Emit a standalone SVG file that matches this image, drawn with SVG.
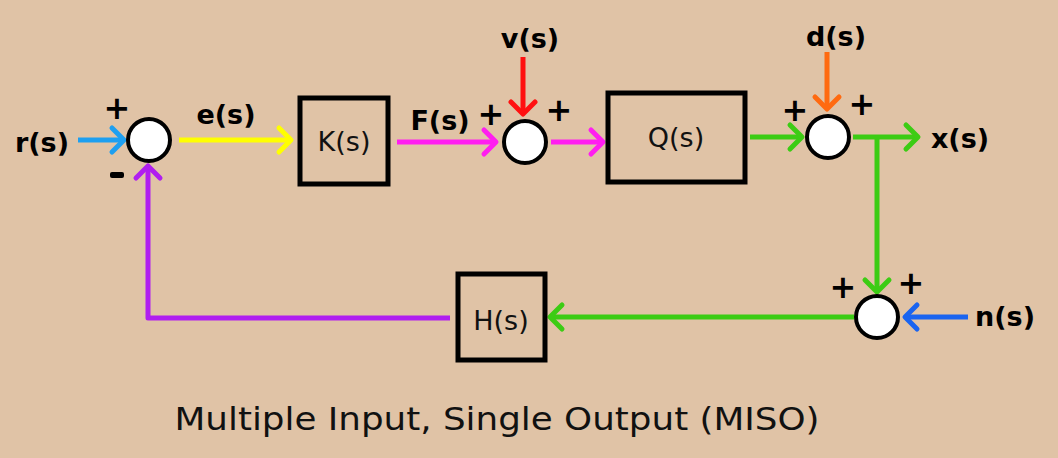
<svg xmlns="http://www.w3.org/2000/svg" width="1058" height="458" viewBox="0 0 1058 458">
<defs>
<style>
.lbl{font-family:"DejaVu Sans",sans-serif;font-weight:bold;font-size:27px;fill:#000}
.sign{font-family:"DejaVu Sans",sans-serif;font-weight:bold;font-size:32px;fill:#000}
.box{fill:none;stroke:#000;stroke-width:5}
.bt{font-family:"DejaVu Sans",sans-serif;font-size:27px;fill:#111}
.sum{fill:#fff;stroke:#000;stroke-width:4}
.w{fill:none;stroke-width:5;stroke-linejoin:round}
.title{font-family:"DejaVu Sans",sans-serif;font-size:32px;fill:#111}
</style>
<marker id="aBlue" markerUnits="userSpaceOnUse" markerWidth="30" markerHeight="30" refX="16" refY="13" orient="auto" overflow="visible"><path d="M4,1 L16,13 L4,25" fill="none" stroke="#1e9ff0" stroke-width="5" stroke-linecap="round" stroke-linejoin="round"/></marker>
<marker id="aYel" markerUnits="userSpaceOnUse" markerWidth="30" markerHeight="30" refX="16" refY="13" orient="auto" overflow="visible"><path d="M4,1 L16,13 L4,25" fill="none" stroke="#ffff00" stroke-width="5" stroke-linecap="round" stroke-linejoin="round"/></marker>
<marker id="aMag" markerUnits="userSpaceOnUse" markerWidth="30" markerHeight="30" refX="16" refY="13" orient="auto" overflow="visible"><path d="M4,1 L16,13 L4,25" fill="none" stroke="#ff1ef0" stroke-width="5" stroke-linecap="round" stroke-linejoin="round"/></marker>
<marker id="aRed" markerUnits="userSpaceOnUse" markerWidth="30" markerHeight="30" refX="16" refY="13" orient="auto" overflow="visible"><path d="M4,1 L16,13 L4,25" fill="none" stroke="#ff1010" stroke-width="5" stroke-linecap="round" stroke-linejoin="round"/></marker>
<marker id="aOra" markerUnits="userSpaceOnUse" markerWidth="30" markerHeight="30" refX="16" refY="13" orient="auto" overflow="visible"><path d="M4,1 L16,13 L4,25" fill="none" stroke="#ff6a10" stroke-width="5" stroke-linecap="round" stroke-linejoin="round"/></marker>
<marker id="aGrn" markerUnits="userSpaceOnUse" markerWidth="30" markerHeight="30" refX="16" refY="13" orient="auto" overflow="visible"><path d="M4,1 L16,13 L4,25" fill="none" stroke="#3ccc14" stroke-width="5" stroke-linecap="round" stroke-linejoin="round"/></marker>
<marker id="aNav" markerUnits="userSpaceOnUse" markerWidth="30" markerHeight="30" refX="16" refY="13" orient="auto" overflow="visible"><path d="M4,1 L16,13 L4,25" fill="none" stroke="#1a64f0" stroke-width="5" stroke-linecap="round" stroke-linejoin="round"/></marker>
<marker id="aPur" markerUnits="userSpaceOnUse" markerWidth="30" markerHeight="30" refX="16" refY="13" orient="auto" overflow="visible"><path d="M4,1 L16,13 L4,25" fill="none" stroke="#b01ef0" stroke-width="5" stroke-linecap="round" stroke-linejoin="round"/></marker>
</defs>
<rect width="1058" height="458" fill="#e0c3a6"/>

<g id="connectors">
<line class="w" x1="78" y1="140" x2="124" y2="140" stroke="#1e9ff0" marker-end="url(#aBlue)"/>
<line class="w" x1="179" y1="140" x2="291" y2="140" stroke="#ffff00" marker-end="url(#aYel)"/>
<line class="w" x1="397" y1="142" x2="496" y2="142" stroke="#ff1ef0" marker-end="url(#aMag)"/>
<line class="w" x1="523" y1="57" x2="523" y2="114" stroke="#ff1010" marker-end="url(#aRed)"/>
<line class="w" x1="551" y1="142" x2="603" y2="142" stroke="#ff1ef0" marker-end="url(#aMag)"/>
<line class="w" x1="750" y1="137" x2="802" y2="137" stroke="#3ccc14" marker-end="url(#aGrn)"/>
<line class="w" x1="827" y1="52" x2="827" y2="109" stroke="#ff6a10" marker-end="url(#aOra)"/>
<line class="w" x1="853" y1="137" x2="918" y2="137" stroke="#3ccc14" marker-end="url(#aGrn)"/>
<line class="w" x1="877" y1="137" x2="877" y2="292" stroke="#3ccc14" marker-end="url(#aGrn)"/>
<line class="w" x1="968" y1="317" x2="905" y2="317" stroke="#1a64f0" marker-end="url(#aNav)"/>
<line class="w" x1="854" y1="317" x2="550" y2="317" stroke="#3ccc14" marker-end="url(#aGrn)"/>
<polyline class="w" points="450,318 148,318 148,166" stroke="#b01ef0" marker-end="url(#aPur)"/>
</g>

<g id="sum1">
<circle class="sum" cx="149" cy="140" r="21"/>
<text class="sign" x="117" y="119" text-anchor="middle">+</text>
<rect x="110" y="172" width="14" height="6" rx="2" fill="#000"/>
</g>
<g id="sum2">
<circle class="sum" cx="525" cy="142" r="21"/>
<text class="sign" x="491" y="125" text-anchor="middle">+</text>
<text class="sign" x="559" y="121" text-anchor="middle">+</text>
</g>
<g id="sum3">
<circle class="sum" cx="828" cy="137" r="21"/>
<text class="sign" x="795" y="121" text-anchor="middle">+</text>
<text class="sign" x="862" y="115" text-anchor="middle">+</text>
</g>
<g id="sum4">
<circle class="sum" cx="877" cy="317" r="21"/>
<text class="sign" x="843" y="298" text-anchor="middle">+</text>
<text class="sign" x="911" y="294" text-anchor="middle">+</text>
</g>

<g id="K"><rect class="box" x="300" y="98" width="88" height="86"/><text class="bt" x="344" y="151" text-anchor="middle">K(s)</text></g>
<g id="Q"><rect class="box" x="608" y="93" width="137" height="89"/><text class="bt" x="676" y="147" text-anchor="middle">Q(s)</text></g>
<g id="H"><rect class="box" x="458" y="274" width="87" height="86"/><text class="bt" x="501" y="330" text-anchor="middle">H(s)</text></g>

<g id="labels">
<text class="lbl" x="42" y="152" text-anchor="middle">r(s)</text>
<text class="lbl" x="226" y="124" text-anchor="middle">e(s)</text>
<text class="lbl" x="440" y="130" text-anchor="middle">F(s)</text>
<text class="lbl" x="530" y="48" text-anchor="middle">v(s)</text>
<text class="lbl" x="836" y="46" text-anchor="middle">d(s)</text>
<text class="lbl" x="960" y="148" text-anchor="middle">x(s)</text>
<text class="lbl" x="1005" y="326" text-anchor="middle">n(s)</text>
</g>

<text class="title" x="497" y="430" text-anchor="middle" textLength="645" lengthAdjust="spacingAndGlyphs">Multiple Input, Single Output (MISO)</text>
</svg>
